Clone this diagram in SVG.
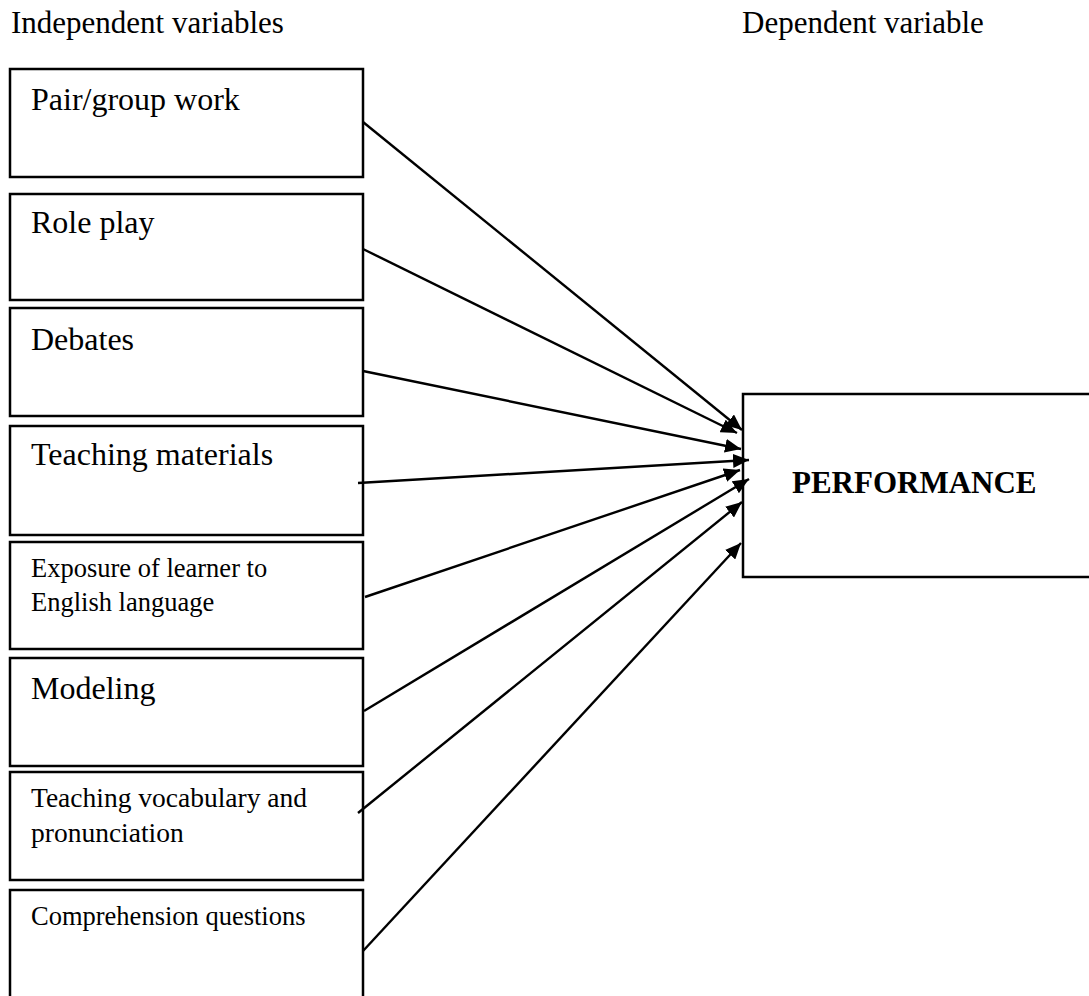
<svg xmlns="http://www.w3.org/2000/svg" width="1089" height="996" viewBox="0 0 1089 996">
<defs>
<style>
.box{fill:#fff;stroke:#000;stroke-width:2.5}
.t{font-family:"Liberation Serif","Times New Roman",serif;fill:#000}
.big{font-size:32px}
.small{font-size:26.5px}
.hdr{font-size:31px}
.conn line{stroke:#000;stroke-width:2.4;marker-end:url(#ah)}
</style>
<marker id="ah" markerUnits="userSpaceOnUse" markerWidth="17" markerHeight="14" refX="16" refY="7" orient="auto">
<path d="M0,0 L16,7 L0,14 z" fill="#000"/>
</marker>
</defs>
<rect width="1089" height="996" fill="#fff"/>
<g id="headers">
<text class="t hdr" x="11" y="33">Independent variables</text>
<text class="t hdr" x="742" y="33">Dependent variable</text>
</g>
<g id="n1"><rect class="box" x="10" y="69" width="353" height="108"/><text class="t big" x="31" y="110">Pair/group work</text></g>
<g id="n2"><rect class="box" x="10" y="194" width="353" height="106"/><text class="t big" x="31" y="233">Role play</text></g>
<g id="n3"><rect class="box" x="10" y="308" width="353" height="108"/><text class="t big" x="31" y="350">Debates</text></g>
<g id="n4"><rect class="box" x="10" y="426" width="353" height="109"/><text class="t big" x="31" y="465">Teaching materials</text></g>
<g id="n5"><rect class="box" x="10" y="542" width="353" height="107"/><text class="t small" x="31" y="577">Exposure of learner to</text><text class="t small" x="31" y="611">English language</text></g>
<g id="n6"><rect class="box" x="10" y="658" width="353" height="108"/><text class="t big" x="31" y="699">Modeling</text></g>
<g id="n7"><rect class="box" x="10" y="772" width="353" height="108"/><text class="t" style="font-size:27.5px" x="31" y="807">Teaching vocabulary and</text><text class="t" style="font-size:27.5px" x="31" y="842">pronunciation</text></g>
<g id="n8"><rect class="box" x="10" y="890" width="353" height="130"/><text class="t small" x="31" y="925">Comprehension questions</text></g>
<g id="perf"><rect class="box" x="743" y="394" width="370" height="183"/><text class="t" style="font-size:31px;font-weight:bold" x="792" y="493">PERFORMANCE</text></g>
<g id="connectors" class="conn">
<line x1="363" y1="122" x2="742" y2="430"/>
<line x1="363" y1="249" x2="737" y2="433"/>
<line x1="363" y1="371" x2="741" y2="449"/>
<line x1="358" y1="483" x2="749" y2="460"/>
<line x1="365" y1="597" x2="740" y2="470"/>
<line x1="364" y1="711" x2="749" y2="479"/>
<line x1="358" y1="813" x2="742" y2="502"/>
<line x1="363" y1="951" x2="741" y2="543"/>
</g>
</svg>
